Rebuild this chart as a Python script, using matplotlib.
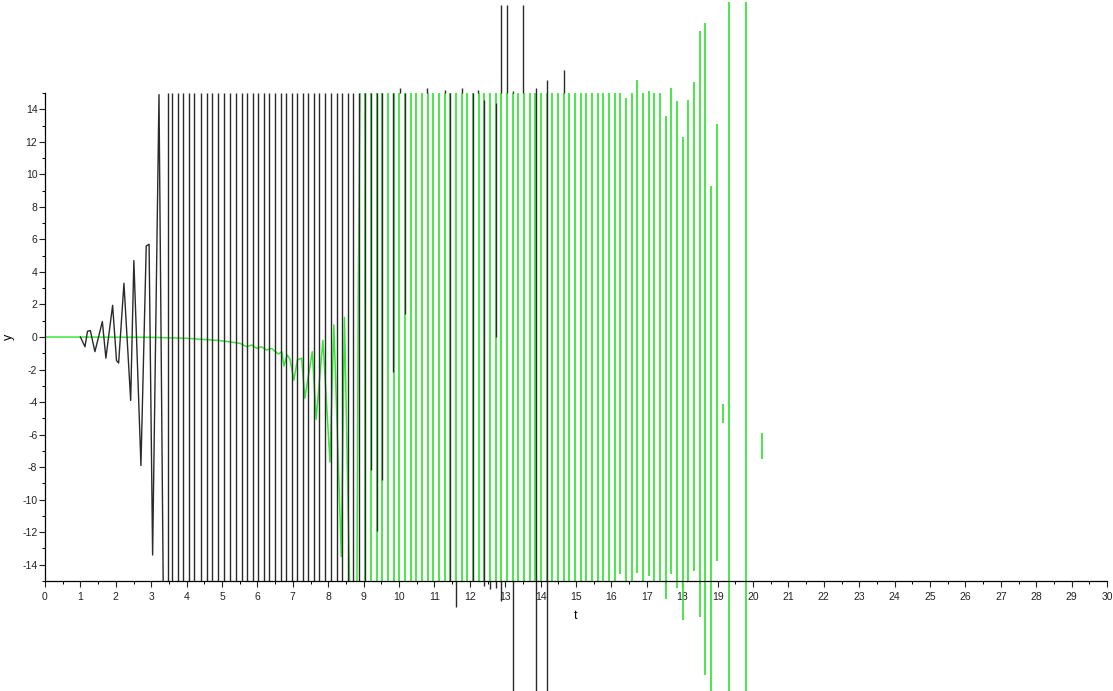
import matplotlib
matplotlib.use("Agg")
import matplotlib.pyplot as plt
from matplotlib.ticker import MultipleLocator

plt.rcParams["font.family"] = ["Liberation Sans", "DejaVu Sans"]
plt.rcParams["axes.unicode_minus"] = False

# black response: early oscillation, then saturated strokes
black_t = [1.0, 1.13, 1.2, 1.28, 1.41, 1.62, 1.72, 1.91, 2.02, 2.08, 2.23, 2.42, 2.51,
           2.71, 2.86, 2.94, 3.04, 3.22, 3.34]
black_y = [0, -0.6, 0.35, 0.4, -0.9, 0.95, -1.3, 1.95, -1.45, -1.6, 3.3, -3.9, 4.7,
           -7.9, 5.6, 5.7, -13.4, 14.9, -15.5]

black_stroke_t = [3.47, 3.58, 3.77, 3.89, 4.08, 4.21, 4.40, 4.57, 4.73, 4.90, 5.07, 5.23,
                  5.39, 5.56, 5.72, 5.87, 6.03, 6.19, 6.34, 6.50, 6.66, 6.81, 6.97, 7.13,
                  7.28, 7.44, 7.60, 7.75, 7.91, 8.07, 8.24, 8.39, 8.55, 8.71, 8.87, 9.04,
                  9.20, 9.37, 9.51, 9.82, 10.03, 10.16, 10.80, 11.29, 11.44, 11.61, 11.77,
                  12.10, 12.24, 12.40, 12.57, 12.73, 12.73, 12.87, 12.87, 13.04, 13.21,
                  13.21, 13.51, 13.86, 14.18, 14.65]
black_stroke_lo = [-15] * 36 + [-8.2, -11.9, -8.8, -2.15, 15, 1.43, 15, 15, -15, -16.6, 15,
                                -15, 15, -15.3, -15.5, -15.4, 0, -16.2, 15, 15, -22, 15,
                                15, -22, -22, 15]
black_stroke_hi = [15] * 36 + [15, 15, 15, 15, 15.3, 15, 15.3, 15.2, 15, -15, 15.3,
                               15, 15.2, 14.6, -15, -15, 14.4, -15, 20.4, 20.4, -15, 15.1,
                               20.4, 15.3, 15.8, 16.4]

# green response: slow drift, oscillation, then saturated strokes
green_t = [0, 3.0, 4.0, 4.94, 5.32, 5.51, 5.70, 5.84, 5.98, 6.12, 6.26, 6.40, 6.59, 6.69,
           6.75, 6.84, 6.92, 7.03, 7.13, 7.25, 7.34, 7.55, 7.66, 7.85, 8.05, 8.16, 8.37,
           8.46, 8.62, 8.76, 8.85, 9.0]
green_y = [0, -0.02, -0.08, -0.22, -0.33, -0.39, -0.6, -0.49, -0.7, -0.6, -0.8, -0.7, -1.05,
           -0.9, -1.78, -1.1, -1.35, -2.65, -1.41, -1.3, -3.76, -0.9, -5.05, -0.2, -7.7,
           0.74, -13.5, 1.2, -17, -40, 3.1, 40]

green_stroke_t = [9.05, 9.21, 9.37, 9.53, 9.69, 9.85, 10.01, 10.17, 10.33, 10.49, 10.65,
                  10.81, 10.97, 11.13, 11.29, 11.45, 11.61, 11.77, 11.93, 12.09, 12.25,
                  12.41, 12.57, 12.73, 12.89, 13.05, 13.21, 13.37, 13.53, 13.69, 13.85,
                  14.01, 14.17, 14.33, 14.49, 14.65, 14.81, 14.97, 15.13, 15.29, 15.45,
                  15.61, 15.77, 15.93, 16.09, 16.25, 16.41, 16.57, 16.73, 16.89, 17.05,
                  17.21, 17.37, 17.53, 17.69, 17.85, 18.01, 18.17, 18.33, 18.49, 18.65,
                  18.81, 18.97, 19.14, 19.32, 19.80, 20.26]
green_stroke_lo = [-15] * 45 + [-14.6, -15, -15, -14.5, -15, -14.7, -15, -15, -16.1, -14.6,
                                -15.4, -17.4, -15, -14.4, -17.2, -20.8, -23, -13.8, -5.3,
                                -23, -23, -7.5]
green_stroke_hi = [15] * 45 + [15, 14.7, 15, 15.8, 15, 15.1, 15, 15, 13.6, 15.3, 14.5,
                               12.3, 14.6, 15.7, 18.8, 19.3, 9.3, 13.1, -4.1, 20.6, 20.6,
                               -5.9]

GREEN = "#3ae63a"
BLACK = "#2a2a2a"

fig = plt.figure(figsize=(11.13, 6.91), dpi=100)
ax = fig.add_axes([45 / 1113, 1 - 581 / 691, 1062 / 1113, 488 / 691])

ax.plot(green_t, green_y, color=GREEN, lw=1.1)
ax.vlines(green_stroke_t, green_stroke_lo, green_stroke_hi, color=GREEN, lw=1.3, clip_on=False)
ax.plot(black_t, black_y, color=BLACK, lw=1.0)
ax.vlines(black_stroke_t, black_stroke_lo, black_stroke_hi, color=BLACK, lw=1.0, clip_on=False)

ax.set_xlim(0, 30)
ax.set_ylim(-15, 15)
for s in ["top", "right"]:
    ax.spines[s].set_visible(False)
for s in ["left", "bottom"]:
    ax.spines[s].set_linewidth(0.9)

ax.set_xticks(range(0, 31))
ax.set_xticklabels([str(v) for v in range(0, 31)])
ax.set_yticks(range(-14, 15, 2))
ax.set_yticklabels([str(v) for v in range(-14, 15, 2)])
ax.xaxis.set_minor_locator(MultipleLocator(0.5))
ax.yaxis.set_minor_locator(MultipleLocator(1))
ax.tick_params(which="major", length=4, width=0.8, labelsize=7.5, colors="#222222")
ax.tick_params(axis="x", which="major", pad=4)
ax.tick_params(axis="y", which="major", pad=1.5)
ax.tick_params(which="minor", length=2, width=0.7)

ax.set_xlabel("t", fontsize=9, labelpad=6)
ax.set_ylabel("y", fontsize=9, labelpad=5)

fig.savefig("out.png", dpi=100)
